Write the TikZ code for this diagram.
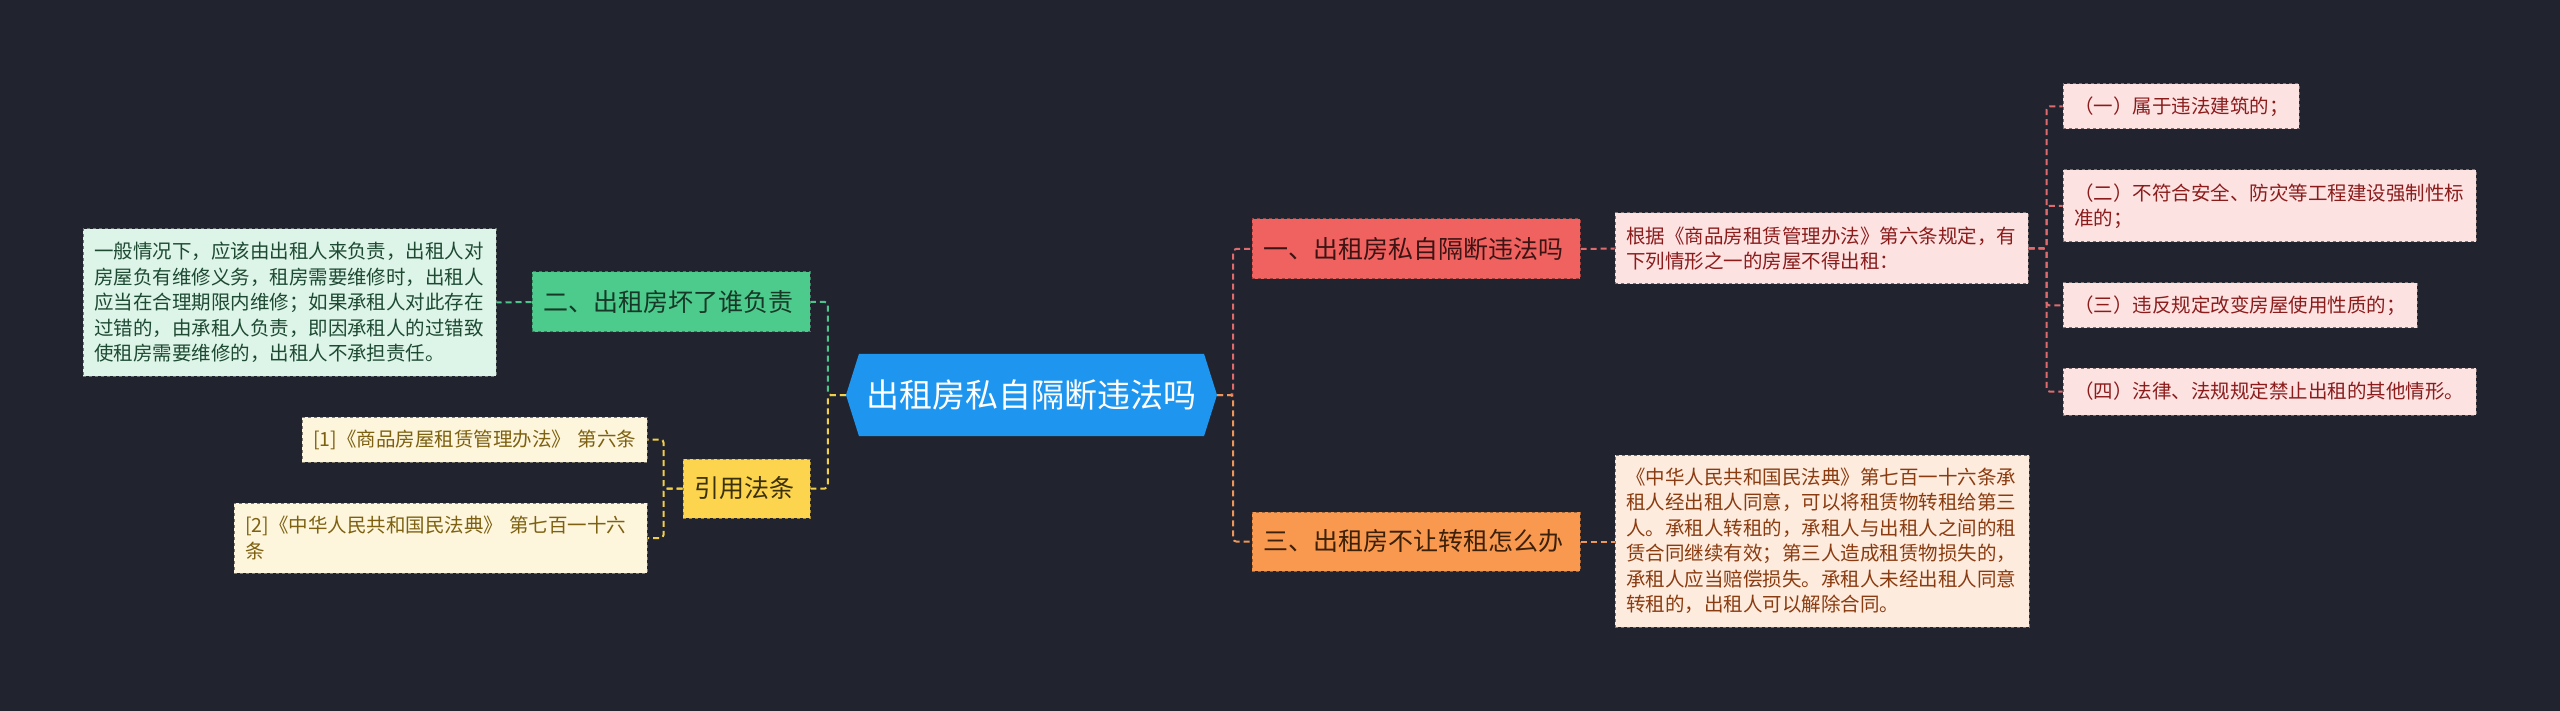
\documentclass[tikz,border=0pt]{standalone}
\usepackage{fontspec}
\newfontfamily\cjk{Noto Sans CJK SC}
\usetikzlibrary{shapes.symbols}

% Colores del mapa
\definecolor{bgdark}{HTML}{21242F}
\definecolor{rootblue}{HTML}{1E96F0}
\definecolor{redfill}{HTML}{F0625F}
\definecolor{redtext}{HTML}{3D1414}
\definecolor{redline}{HTML}{E06B6E}
\definecolor{redpale}{HTML}{FDE2E2}
\definecolor{redpaletext}{HTML}{8B1C1C}
\definecolor{orangefill}{HTML}{F8994F}
\definecolor{orangetext}{HTML}{3D2008}
\definecolor{orangeline}{HTML}{EE9558}
\definecolor{orangepale}{HTML}{FDEBDD}
\definecolor{orangepaletext}{HTML}{8A3B10}
\definecolor{greenfill}{HTML}{4CCB8C}
\definecolor{greentext}{HTML}{173826}
\definecolor{greenline}{HTML}{4DC48B}
\definecolor{greenpale}{HTML}{DDF4E8}
\definecolor{greenpaletext}{HTML}{1E4A32}
\definecolor{yellowfill}{HTML}{FCD44E}
\definecolor{yellowtext}{HTML}{3B3109}
\definecolor{yellowline}{HTML}{F2CF48}
\definecolor{refpale}{HTML}{FDF6DC}
\definecolor{reftext}{HTML}{7D6010}

\tikzset{
  rootnode/.style={signal, signal to=east and west, signal pointer angle=145,
    fill=rootblue, text=white, minimum width=371pt, minimum height=82pt,
    inner sep=0pt, font=\cjk\fontsize{33}{40}\selectfont},
  branch/.style={draw, dashed, line width=1pt, inner xsep=11pt, inner ysep=0pt,
    minimum height=60pt, align=left, font=\cjk\fontsize{25}{30}\selectfont},
  leaf/.style={draw, dashed, line width=1pt, inner xsep=11pt, inner ysep=8pt,
    align=left, font=\cjk\fontsize{19.5}{25.5}\selectfont},
  link/.style={line width=2pt, dash pattern=on 6pt off 4pt, rounded corners=3pt},
}

\begin{document}
\begin{tikzpicture}[x=1pt, y=-1pt]

% Fondo
\fill[bgdark] (0,0) rectangle (2560,711);
\useasboundingbox (0,0) rectangle (2560,711);

% =============================================
% NODO CENTRAL
% =============================================
\node[rootnode] (root) at (1031.5,395) {出租房私自隔断违法吗};

% =============================================
% LADO DERECHO
% =============================================
\node[branch, fill=redfill, draw=redfill!65!black, text=redtext, text width=306pt] (b1) at (1416,249) {一、出租房私自隔断违法吗};
\node[branch, fill=orangefill, draw=orangefill!65!black, text=orangetext, text width=306pt, minimum height=59pt] (b3) at (1416,541.5) {三、出租房不让转租怎么办};

\node[leaf, fill=redpale, draw=redpale!50!black, text=redpaletext, text width=391pt, minimum height=71pt] (d1) at (1821.5,248.5) {根据《商品房租赁管理办法》第六条规定，有\\下列情形之一的房屋不得出租：};

\node[leaf, fill=redpale, draw=redpale!50!black, text=redpaletext, text width=214pt, minimum height=45pt] (i1) at (2181,106.5) {（一）属于违法建筑的；};
\node[leaf, fill=redpale, draw=redpale!50!black, text=redpaletext, text width=391pt, minimum height=72pt] (i2) at (2269.5,206) {（二）不符合安全、防灾等工程建设强制性标\\准的；};
\node[leaf, fill=redpale, draw=redpale!50!black, text=redpaletext, text width=332pt, minimum height=45pt] (i3) at (2240,305.5) {（三）违反规定改变房屋使用性质的；};
\node[leaf, fill=redpale, draw=redpale!50!black, text=redpaletext, text width=391pt, minimum height=47pt] (i4) at (2269.5,391.5) {（四）法律、法规规定禁止出租的其他情形。};

\node[leaf, fill=orangepale, draw=orangepale!50!black, text=orangepaletext, text width=392pt, minimum height=172pt] (d3) at (1822,541) {《中华人民共和国民法典》第七百一十六条承\\租人经出租人同意，可以将租赁物转租给第三\\人。承租人转租的，承租人与出租人之间的租\\赁合同继续有效；第三人造成租赁物损失的，\\承租人应当赔偿损失。承租人未经出租人同意\\转租的，出租人可以解除合同。};

\draw[link, redline] (root.east) -- ++(16,0) |- (b1.west);
\draw[link, orangeline] (root.east) -- ++(16,0) |- (b3.west);
\draw[link, redline] (b1.east) -- (d1.west);
\draw[link, orangeline] (b3.east) -- (b3.east -| d3.west);
\foreach \i in {i1,i2,i3,i4}
    \draw[link, redline] (d1.east) -- ++(18,0) |- (\i.west);

% =============================================
% LADO IZQUIERDO
% =============================================
\node[branch, fill=greenfill, draw=greenfill!65!black, text=greentext, text width=256pt] (b2) at (671,302) {二、出租房坏了谁负责};
\node[branch, fill=yellowfill, draw=yellowfill!65!black, text=yellowtext, text width=105pt, minimum height=59pt] (b4) at (746.5,488.5) {引用法条};

\node[leaf, fill=greenpale, draw=greenpale!50!black, text=greenpaletext, text width=391pt, minimum height=147pt] (d2) at (289.5,302.5) {一般情况下，应该由出租人来负责，出租人对\\房屋负有维修义务，租房需要维修时，出租人\\应当在合理期限内维修；如果承租人对此存在\\过错的，由承租人负责，即因承租人的过错致\\使租房需要维修的，出租人不承担责任。};

\node[leaf, fill=refpale, draw=refpale!50!black, text=reftext, text width=323pt, minimum height=45pt] (r1) at (474.5,439.5) {[1]《商品房屋租赁管理办法》~第六条};
\node[leaf, fill=refpale, draw=refpale!50!black, text=reftext, text width=391pt, minimum height=70pt] (r2) at (440.5,538) {[2]《中华人民共和国民法典》~第七百一十六\\条};

\draw[link, greenline] (root.west) -- ++(-18,0) |- (b2.east);
\draw[link, yellowline] (root.west) -- ++(-18,0) |- (b4.east);
\draw[link, greenline] (b2.west) -- (d2.east);
\foreach \r in {r1,r2}
    \draw[link, yellowline] (b4.west) -- ++(-19,0) |- (\r.east);

\end{tikzpicture}
\end{document}
